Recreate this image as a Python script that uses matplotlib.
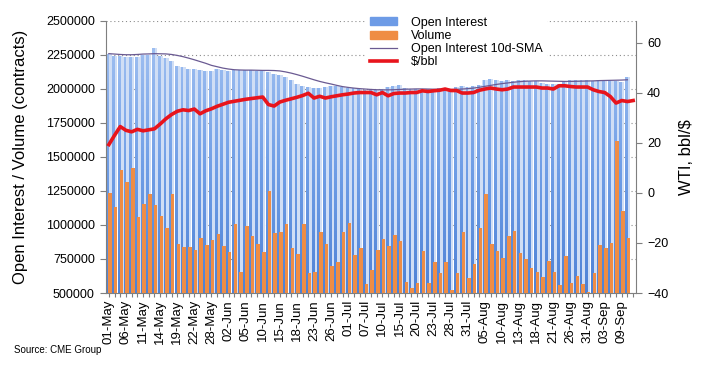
import matplotlib
matplotlib.use("Agg")
import matplotlib.pyplot as plt
import numpy as np
import pandas as pd
from matplotlib.path import Path
from matplotlib.patches import Patch
from matplotlib.lines import Line2D
from matplotlib.colors import LinearSegmentedColormap

plt.rcParams['font.family'] = ['Liberation Sans', 'DejaVu Sans']

# trading days 01-May .. 11-Sep (US holidays removed)
holidays = ['2020-05-25', '2020-07-03', '2020-09-07']
dates = [d for d in pd.bdate_range('2020-05-01', '2020-09-11') if d.strftime('%Y-%m-%d') not in holidays]
date_labels = [d.strftime('%d-%b') for d in dates]

open_interest = [
    2255000, 2238000, 2238000, 2233000, 2233000, 2230000, 2250000, 2250000, 2299000, 2238000,
    2226000, 2201000, 2164000, 2157000, 2147000, 2147000, 2140000, 2127000, 2132000, 2145000,
    2135000, 2132000, 2135000, 2135000, 2135000, 2135000, 2132000, 2127000, 2123000, 2108000,
    2098000, 2083000, 2066000, 2037000, 2022000, 2010000, 2005000, 2005000, 2012000, 2017000,
    2017000, 2012000, 2005000, 2005000, 2000000, 1993000, 1993000, 1993000, 2000000, 2010000,
    2022000, 2025000, 2005000, 2000000, 2000000, 1993000, 2000000, 2000000, 2005000, 1993000,
    2000000, 2010000, 2017000, 2010000, 2022000, 2029000, 2066000, 2073000, 2061000, 2059000,
    2061000, 2054000, 2066000, 2066000, 2059000, 2054000, 2045000, 2037000, 2037000, 2034000,
    2054000, 2064000, 2064000, 2064000, 2064000, 2059000, 2064000, 2059000, 2059000, 2054000,
    2049000, 2088000,
]

volume = [
    1233000, 1135000, 1404000, 1318000, 1417000, 1061000, 1154000, 1228000, 1147000, 1066000,
    980000, 1228000, 862000, 840000, 838000, 816000, 907000, 853000, 890000, 934000,
    846000, 799000, 1007000, 657000, 995000, 919000, 860000, 801000, 1252000, 939000,
    951000, 1005000, 828000, 789000, 1005000, 645000, 657000, 946000, 860000, 701000,
    730000, 949000, 1017000, 782000, 833000, 568000, 667000, 814000, 897000, 846000,
    926000, 880000, 579000, 534000, 574000, 806000, 574000, 728000, 649000, 728000,
    522000, 649000, 951000, 608000, 713000, 980000, 1228000, 858000, 809000, 760000,
    921000, 956000, 797000, 750000, 681000, 652000, 620000, 735000, 657000, 559000,
    774000, 574000, 625000, 568000, 510000, 649000, 853000, 828000, 870000, 1620000,
    1103000, 902000,
]

oi_sma10 = [
    2258000, 2255000, 2252000, 2250000, 2250000, 2252000, 2255000, 2256000, 2258000, 2257000,
    2256000, 2252000, 2245000, 2236000, 2225000, 2213000, 2200000, 2187000, 2172000, 2162000,
    2152000, 2145000, 2140000, 2138000, 2137000, 2137000, 2136000, 2135000, 2135000, 2134000,
    2131000, 2124000, 2115000, 2104000, 2092000, 2079000, 2066000, 2054000, 2044000, 2035000,
    2025000, 2016000, 2010000, 2005000, 2001000, 1998000, 1995000, 1993000, 1992000, 1992000,
    1993000, 1995000, 1997000, 1998000, 1999000, 1999000, 1998000, 1997000, 1996000, 1995000,
    1995000, 1996000, 1998000, 2001000, 2005000, 2011000, 2018000, 2025000, 2032000, 2038000,
    2043000, 2048000, 2052000, 2055000, 2057000, 2058000, 2058000, 2057000, 2056000, 2055000,
    2054000, 2054000, 2055000, 2056000, 2057000, 2058000, 2060000, 2061000, 2062000, 2063000,
    2064000, 2066000,
]

wti = [
    19.3, 23.0, 26.5, 25.0, 24.4, 25.4, 24.8, 25.2, 25.6, 27.5,
    29.6, 31.3, 32.6, 33.2, 32.9, 33.5, 31.6, 32.8, 33.6, 34.6,
    35.4, 36.2, 36.6, 37.0, 37.4, 37.7, 38.0, 38.3, 35.3, 34.7,
    36.3, 37.0, 37.6, 38.2, 38.9, 39.8, 37.9, 38.6, 37.9, 38.4,
    38.8, 39.2, 39.5, 39.9, 40.1, 40.1, 40.1, 39.2, 40.1, 38.8,
    39.7, 39.9, 39.9, 40.1, 40.1, 40.8, 40.5, 40.8, 41.0, 41.5,
    40.9, 40.9, 39.9, 39.9, 40.1, 41.0, 41.5, 41.9, 41.5, 41.2,
    41.5, 42.3, 42.3, 42.3, 42.3, 42.3, 41.9, 41.9, 41.5, 42.8,
    42.8, 42.5, 42.3, 42.3, 42.3, 41.2, 40.5, 40.1, 38.5, 35.9,
    36.9, 36.5, 36.9,
]

W, H = 702, 367
fig = plt.figure(figsize=(W / 100, H / 100), dpi=100)
ax = fig.add_axes([106 / W, 1 - 293 / H, (636 - 106) / W, (293 - 20.7) / H])

x = np.arange(len(dates))
xb = x[:len(open_interest)]

# open interest: pale wide bar + gradient-filled narrow bar
ax.bar(xb, open_interest, width=0.95, color='#d0def5', zorder=1)
oi_bars = ax.bar(xb - 0.16, open_interest, width=0.5, color='none', zorder=2)
clip = Path.make_compound_path(*[b.get_path().transformed(b.get_patch_transform()) for b in oi_bars])
cmap = LinearSegmentedColormap.from_list('oi', ['#4f82d6', '#6f9ee6', '#9fbff1'])
grad = np.linspace(0, 1, 256).reshape(-1, 1)
im = ax.imshow(grad, extent=[-0.5, len(dates) - 0.5, 500000, 2320000], origin='lower',
               aspect='auto', cmap=cmap, zorder=2)
im.set_clip_path(clip, ax.transData)

ax.bar(xb + 0.2, volume, width=0.62, color='#ef8d45', zorder=3)
ax.plot(xb, oi_sma10, color='#6a5a92', lw=0.9, zorder=4)

ax.set_xlim(-0.5, len(dates) - 0.5)
ax.set_ylim(500000, 2500000)
ax.set_yticks(np.arange(500000, 2500001, 250000))
ax.set_yticklabels([str(v) for v in range(500000, 2500001, 250000)], fontsize=9)
ax.yaxis.grid(True, color='#8c8c8c', linestyle=(0, (1, 2.5)), linewidth=0.8)
ax.set_axisbelow(True)
ax.set_xticks(x)
ax.set_xticklabels([lab if i % 3 == 0 else '' for i, lab in enumerate(date_labels)],
                   rotation=90, fontsize=9.5)
ax.tick_params(axis='x', length=3, color='#7f7f7f', pad=2)
ax.tick_params(axis='y', length=4, color='#7f7f7f', pad=4)
for s in ['top', 'right']:
    ax.spines[s].set_visible(False)
for s in ['left', 'bottom']:
    ax.spines[s].set_color('#7f7f7f')
ax.set_ylabel('Open Interest / Volume (contracts)', fontsize=12, labelpad=13)

ax2 = ax.twinx()
ax2.plot(x, wti, color='#e8141c', lw=2.6, solid_joinstyle='round', zorder=5)
ax2.set_ylim(-40, 68.8)
ax2.set_yticks([-40, -20, 0, 20, 40, 60])
ax2.tick_params(axis='y', labelsize=9, length=4, color='#7f7f7f', pad=4)
for s in ['top', 'left', 'bottom']:
    ax2.spines[s].set_visible(False)
ax2.spines['right'].set_color('#7f7f7f')
ax2.set_ylabel('WTI, bbl/$', fontsize=12, labelpad=8)

handles = [Patch(color='#6d9be6'), Patch(color='#ef8d45'),
           Line2D([], [], color='#6a5a92', lw=0.9), Line2D([], [], color='#e8141c', lw=2.6)]
labels = ['Open Interest', 'Volume', 'Open Interest 10d-SMA', '$/bbl']
leg = ax2.legend(handles, labels, loc='upper left', bbox_to_anchor=(366 / W, 1 - 13 / H),
                 bbox_transform=fig.transFigure, fontsize=9, frameon=True, fancybox=False,
                 edgecolor='none', facecolor='white', framealpha=1, borderpad=0.3,
                 labelspacing=0.1, handlelength=2.2, handleheight=0.6, handletextpad=1.1,
                 borderaxespad=0)

fig.text(14 / W, 1 - 350 / H, 'Source: CME Group', fontsize=7, va='center', ha='left')

fig.savefig('out.png', dpi=100)
